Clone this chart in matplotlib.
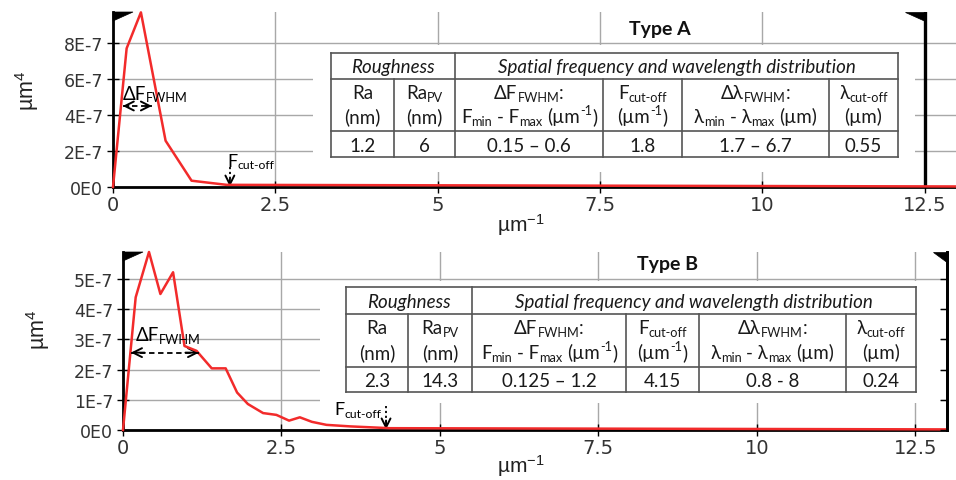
import matplotlib
matplotlib.use('Agg')
import matplotlib.pyplot as plt
from matplotlib.text import Text
from matplotlib.patches import Rectangle, Polygon
from matplotlib.lines import Line2D

# ---------------- data ----------------
freq_a = [0.0, 0.21, 0.43, 0.81, 1.21, 1.75, 13.0]
psd_a = [0.0, 7.7e-7, 9.7e-7, 2.57e-7, 0.35e-7, 0.12e-7, 0.03e-7]

freq_b = [0.0, 0.20, 0.41, 0.59, 0.79, 0.97, 1.16, 1.40, 1.62, 1.80, 1.97,
          2.21, 2.42, 2.62, 2.79, 2.98, 3.21, 3.58, 4.21, 13.0]
psd_b = [0.0, 4.39e-7, 5.89e-7, 4.50e-7, 5.22e-7, 2.78e-7, 2.62e-7, 2.04e-7,
         2.04e-7, 1.24e-7, 0.86e-7, 0.56e-7, 0.50e-7, 0.31e-7, 0.42e-7,
         0.27e-7, 0.17e-7, 0.12e-7, 0.06e-7, 0.02e-7]

x_ticks = [0, 2.5, 5, 7.5, 10, 12.5]
x_tick_labels = ['0', '2.5', '5', '7.5', '10', '12.5']
y_ticks_a = [0, 2e-7, 4e-7, 6e-7, 8e-7]
y_tick_labels_a = ['0E0', '2E-7', '4E-7', '6E-7', '8E-7']
y_ticks_b = [0, 1e-7, 2e-7, 3e-7, 4e-7, 5e-7]
y_tick_labels_b = ['0E0', '1E-7', '2E-7', '3E-7', '4E-7', '5E-7']
titles = ['Type A', 'Type B']

fwhm_a = (0.15, 0.6)
fwhm_b = (0.125, 1.2)
cutoff_a = 1.8
cutoff_b = 4.15

group_headers = ['Roughness', 'Spatial frequency and wavelength distribution']
# each header: (line1 parts, line2 parts); parts = (text, kind)
col_headers = [
    ([('Ra', '')], [('(nm)', '')]),
    ([('Ra', ''), ('PV', 'sub')], [('(nm)', '')]),
    ([('ΔF', ''), ('FWHM', 'sub'), (':', '')],
     [('F', ''), ('min', 'sub'), (' - F', ''), ('max', 'sub'), (' (µm', ''), ('-1', 'sup'), (')', '')]),
    ([('F', ''), ('cut-off', 'sub')], [('(µm', ''), ('-1', 'sup'), (')', '')]),
    ([('Δλ', ''), ('FWHM', 'sub'), (':', '')],
     [('λ', ''), ('min', 'sub'), (' - λ', ''), ('max', 'sub'), (' (µm)', '')]),
    ([('λ', ''), ('cut-off', 'sub')], [('(µm)', '')]),
]
table_a_values = ['1.2', '6', '0.15 – 0.6', '1.8', '1.7 – 6.7', '0.55']
table_b_values = ['2.3', '14.3', '0.125 – 1.2', '4.15', '0.8 - 8', '0.24']

# ---------------- figure ----------------
W, H, DPI = 956, 481, 100
TFAM = ['Lato', 'DejaVu Sans']
plt.rcParams['mathtext.fontset'] = 'custom'
plt.rcParams['mathtext.rm'] = 'Liberation Sans'
plt.rcParams['mathtext.it'] = 'Liberation Sans:italic'

fig = plt.figure(figsize=(W / DPI, H / DPI), dpi=DPI)
fig.patch.set_facecolor('white')
renderer = fig.canvas.get_renderer()


def F(x, y):
    """pixel (y from top) -> figure fraction"""
    return x / W, 1 - y / H


def ink_w(s, size, style, weight):
    t = Text(0, 0, s, fontsize=size, fontfamily=TFAM, fontstyle=style, fontweight=weight)
    t.set_figure(fig)
    return t.get_window_extent(renderer).width


def adv(s, size, style, weight):
    return ink_w('|' + s + '|', size, style, weight) - ink_w('||', size, style, weight)


def rich(x, y, parts, fs, ha='center', style='normal', weight='normal',
         color='#1a1a1a', zorder=6):
    pieces = []
    for s, kind in parts:
        size = fs if kind == '' else fs * 0.68
        dy = 0 if kind == '' else (-0.14 * fs if kind == 'sub' else 0.42 * fs)
        stripped = s.lstrip(' ')
        lead = adv(s[:len(s) - len(stripped)], size, style, weight) if stripped != s else 0
        pieces.append((stripped, size, dy * DPI / 72, lead, adv(s, size, style, weight)))
    total = sum(p[4] for p in pieces)
    if ha == 'center':
        x0 = x - total / 2
    elif ha == 'right':
        x0 = x - total
    else:
        x0 = x
    for s, size, dy, lead, a in pieces:
        t = Text(*F(x0 + lead, y - dy), s, fontsize=size, fontfamily=TFAM,
                 fontstyle=style, fontweight=weight, color=color,
                 ha='left', va='baseline', transform=fig.transFigure, zorder=zorder)
        fig.add_artist(t)
        x0 += a


def hline(x0, x1, y, **kw):
    fig.add_artist(Line2D([x0 / W, x1 / W], [1 - y / H, 1 - y / H],
                          transform=fig.transFigure, **kw))


def vline(x, y0, y1, **kw):
    fig.add_artist(Line2D([x / W, x / W], [1 - y0 / H, 1 - y1 / H],
                          transform=fig.transFigure, **kw))


def draw_table(ax, box, cols, rows, values, fs=13.5):
    bx0, by0, bx1, by1 = box
    ax.add_patch(Rectangle(F(bx0, by1), (bx1 - bx0) / W, (by1 - by0) / H,
                           transform=fig.transFigure, facecolor='white',
                           edgecolor='none', zorder=1, clip_on=False))
    top, r1, r2, bot = rows
    lk = dict(color='#555555', lw=1.2, zorder=5)
    for y in rows:
        hline(cols[0], cols[-1], y, **lk)
    vline(cols[0], top, bot, **lk)
    vline(cols[-1], top, bot, **lk)
    vline(cols[2], top, bot, **lk)
    for c in (cols[1], cols[3], cols[4], cols[5]):
        vline(c, r1, bot, **lk)
    rich((cols[0] + cols[2]) / 2, r1 - 7, [(group_headers[0], '')], fs, style='italic')
    rich((cols[2] + cols[6]) / 2, r1 - 7, [(group_headers[1], '')], fs, style='italic')
    for i, (l1, l2) in enumerate(col_headers):
        cx = (cols[i] + cols[i + 1]) / 2
        rich(cx, r1 + 19, l1, fs)
        rich(cx, r2 - 9, l2, fs)
        rich(cx, bot - 6, [(values[i], '')], fs)


def flag(pts):
    fig.add_artist(Polygon([F(x, y) for x, y in pts], closed=True,
                           transform=fig.transFigure, facecolor='black',
                           edgecolor='black', lw=0.5, zorder=7))


def setup(ax, fx, fy, yt, ytl, ymax):
    ax.set_xlim(0, 13)
    ax.set_ylim(0, ymax)
    ax.plot(fx, fy, color='#f22b2b', lw=1.8, zorder=4, clip_on=False)
    ax.set_xticks(x_ticks)
    ax.set_xticklabels(x_tick_labels)
    ax.set_yticks(yt)
    ax.set_yticklabels(ytl)
    ax.grid(True, color='#a8a8a8', lw=1.0)
    ax.set_axisbelow(True)
    ax.spines['top'].set_visible(False)
    ax.spines['right'].set_visible(False)
    ax.spines['left'].set_linewidth(2)
    ax.spines['bottom'].set_linewidth(2)
    ax.tick_params(direction='inout', length=8, width=1, color='black',
                   labelcolor='#333333')
    ax.tick_params(axis='x', labelsize=14, pad=2)
    ax.tick_params(axis='y', labelsize=12.5, pad=3)
    for lab in ax.get_xticklabels() + ax.get_yticklabels():
        lab.set_fontfamily('DejaVu Sans')


def to_px(ax, x, y):
    px, py = ax.transData.transform((x, y))
    return px, H - py


def arrows(ax, fwhm, y_fwhm, cutoff, y_cut_top):
    # FWHM double arrow (dashed shaft, solid heads)
    ax.plot(fwhm, [y_fwhm, y_fwhm], color='black', lw=1.3, ls=(0, (3, 2)), zorder=5)
    span = fwhm[1] - fwhm[0]
    for xe, xs in ((fwhm[0], fwhm[0] + 0.2 * span), (fwhm[1], fwhm[1] - 0.2 * span)):
        ax.annotate('', xy=(xe, y_fwhm), xytext=(xs, y_fwhm),
                    arrowprops=dict(arrowstyle='->', lw=1.4, color='black',
                                    mutation_scale=16, shrinkA=0, shrinkB=0))
    # cut-off arrow
    ax.plot([cutoff, cutoff], [y_cut_top, y_cut_top * 0.35], color='black', lw=1.3,
            ls=(0, (1.2, 1.5)), zorder=5)
    ax.annotate('', xy=(cutoff, 0.02 * y_cut_top), xytext=(cutoff, y_cut_top * 0.4),
                arrowprops=dict(arrowstyle='->', lw=1.4, color='black',
                                mutation_scale=16, shrinkA=0, shrinkB=0))


# ---------------- top panel ----------------
ax1 = fig.add_axes([113 / W, 1 - 188 / H, (957 - 113) / W, (188 - 13) / H])
setup(ax1, freq_a, psd_a, y_ticks_a, y_tick_labels_a, 9.72e-7)
ax1.axvline(12.5, color='black', lw=2.4, zorder=3)
arrows(ax1, fwhm_a, 4.5e-7, cutoff_a, 1.1e-7)

# ---------------- bottom panel ----------------
ax2 = fig.add_axes([123 / W, 1 - 431 / H, (947 - 123) / W, (431 - 253) / H])
setup(ax2, freq_b, psd_b, y_ticks_b, y_tick_labels_b, 5.89e-7)
ax2.spines['right'].set_visible(True)
ax2.spines['right'].set_linewidth(2)
axr = ax2.twinx()
axr.set_ylim(ax2.get_ylim())
axr.set_yticks(y_ticks_b)
axr.tick_params(direction='in', length=5, width=1, labelright=False)
for s in ('left', 'top', 'bottom'):
    axr.spines[s].set_visible(False)
axr.spines['right'].set_linewidth(2)
arrows(ax2, fwhm_b, 2.56e-7, cutoff_b, 0.78e-7)

# annotation texts
x, y = to_px(ax1, fwhm_a[0], 4.9e-7)
rich(x, y, [('ΔF', ''), ('FWHM', 'sub')], 13.5, ha='left', color='black')
x, y = to_px(ax1, cutoff_a, 1.17e-7)
rich(x - 2, y, [('F', ''), ('cut-off', 'sub')], 13, ha='left', color='black')
x, y = to_px(ax2, fwhm_b[0], 2.97e-7)
rich(x + 5, y, [('ΔF', ''), ('FWHM', 'sub')], 13.5, ha='left', color='black')
x, y = to_px(ax2, cutoff_b, 0.53e-7)
rich(x - 5, y, [('F', ''), ('cut-off', 'sub')], 13, ha='right', color='black')

# tables
draw_table(ax1, (313, 46, 915, 173), [331, 394, 455, 603, 682, 829, 898],
           [54, 80, 132, 158], table_a_values)
draw_table(ax2, (320, 282, 941, 404), [346, 408, 472, 626, 699, 846, 916],
           [288, 315, 368, 393], table_b_values)

# titles
fig.text(*F(660, 30), titles[0], fontsize=14, fontweight='bold', fontfamily=TFAM,
         ha='center', va='center', color='#111111')
fig.text(*F(668, 265), titles[1], fontsize=14, fontweight='bold', fontfamily=TFAM,
         ha='center', va='center', color='#111111')

# axis labels
for (cx, cy) in ((27, 91), (38, 330)):
    fig.text(*F(cx, cy), 'µm$^{4}$', fontsize=15.5, fontfamily='Liberation Sans',
             rotation=90, ha='center', va='center', color='#222222')
for (cx, cy) in ((521, 225), (521, 466)):
    fig.text(*F(cx, cy), 'µm$^{-1}$', fontsize=15, fontfamily='Liberation Sans',
             ha='center', va='center', color='#222222')

# cursor flags
flag([(113, 13), (133, 13), (113, 22)])
flag([(905, 13), (925, 13), (925, 22)])
flag([(123, 253), (143, 253), (123, 262)])
flag([(933, 253), (948, 253), (948, 264)])

fig.savefig('out.png', dpi=DPI, facecolor='white')
